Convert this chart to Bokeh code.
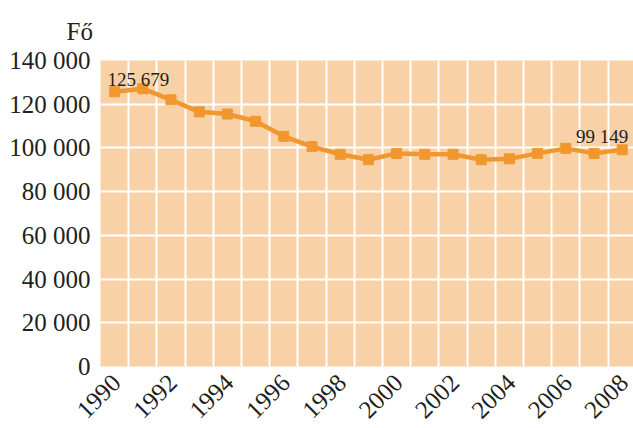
import math
from bokeh.plotting import figure
from bokeh.models import FixedTicker, Range1d, LinearAxis, Title
from bokeh.embed import file_html
from bokeh.resources import INLINE

years = list(range(1990, 2009))
values = [125679, 127100, 122000, 116500, 115500, 112200, 105300, 100600, 97100,
          94600, 97500, 97100, 97100, 94600, 95000, 97500, 99800, 97500, 99149]

y_ticks = [0, 20000, 40000, 60000, 80000, 100000, 120000, 140000]
y_tick_labels = ["0", "20 000", "40 000", "60 000", "80 000", "100 000", "120 000", "140 000"]
x_ticks = [1990, 1992, 1994, 1996, 1998, 2000, 2002, 2004, 2006, 2008]
x_tick_labels = [str(t) for t in x_ticks]

first_label = "125 679"
last_label = "99 149"
unit_label = "Fő"

ORANGE = "#F0982F"
BG = "#F8D2A6"
TXT = "#231F20"
FONT = "Liberation Serif"

p = figure(width=633, height=428, output_backend="svg", toolbar_location=None,
           x_range=Range1d(1989.5, 2008.4), y_range=Range1d(0, 140000),
           min_border_left=100, min_border_top=59, min_border_bottom=56, min_border_right=0)
p.background_fill_color = BG
p.border_fill_color = "white"
p.outline_line_color = None

p.add_layout(Title(text=unit_label, align="left", offset=-34, standoff=31,
                   text_font=FONT, text_font_size="25px", text_font_style="normal",
                   text_line_height=1.0, text_color=TXT), "above")

p.xgrid.ticker = FixedTicker(ticks=[y + 0.5 for y in years[:-1]])
p.ygrid.ticker = FixedTicker(ticks=y_ticks)
for g in (p.xgrid, p.ygrid):
    g.grid_line_color = "white"
    g.grid_line_width = 2
    g.grid_line_alpha = 1

p.xaxis.visible = False

# label axis, shifted slightly right like the reference's rotated year labels
p.extra_x_ranges = {"lab": Range1d(1989.5 - 0.06, 2008.4 - 0.06)}
xax = LinearAxis(x_range_name="lab", ticker=FixedTicker(ticks=x_ticks))
xax.major_label_overrides = dict(zip(x_ticks, x_tick_labels))
xax.major_label_orientation = math.pi / 4
xax.major_label_standoff = 12
p.add_layout(xax, "below")

p.yaxis.ticker = FixedTicker(ticks=y_ticks)
p.yaxis.major_label_overrides = dict(zip(y_ticks, y_tick_labels))
p.yaxis.major_label_standoff = 10
for ax in (xax, p.yaxis[0]):
    ax.axis_line_color = None
    ax.major_tick_line_color = None
    ax.minor_tick_line_color = None
    ax.major_tick_out = 0
    ax.major_tick_in = 0
    ax.major_label_text_font = FONT
    ax.major_label_text_font_size = "25px"
    ax.major_label_text_color = TXT

p.line(years, values, line_color=ORANGE, line_width=4.5)
p.scatter(years, values, marker="square", size=10, color=ORANGE)

p.text(x=[years[0]], y=[values[0]], text=[first_label], x_offset=-7, y_offset=-12,
       text_align="left", text_baseline="alphabetic", text_font={"value": FONT},
       text_font_size="19px", text_color=TXT)
p.text(x=[years[-1]], y=[values[-1]], text=[last_label], x_offset=6, y_offset=-13,
       text_align="right", text_baseline="alphabetic", text_font={"value": FONT},
       text_font_size="19px", text_color=TXT)

open("out.html", "w").write(file_html(p, INLINE))
